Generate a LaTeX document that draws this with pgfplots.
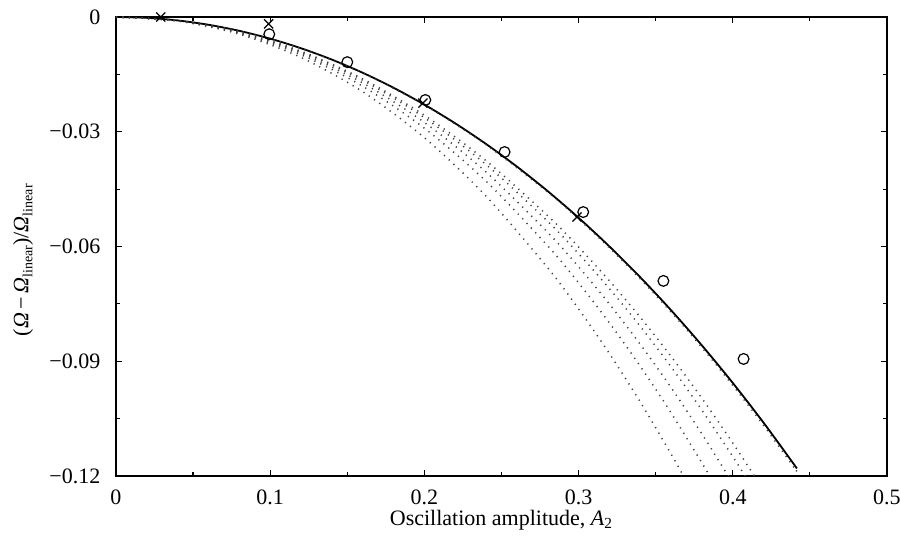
\documentclass[border=0pt]{standalone}
\usepackage{fontspec}
\setmainfont{Liberation Serif}
\usepackage{pgfplots}
\pgfplotsset{compat=1.18}
\begin{document}
\begin{tikzpicture}
\useasboundingbox (-58pt,-34pt) rectangle (392.5pt,238pt);
\begin{axis}[
  at={(0,0)}, anchor=south west,
  scale only axis, width=385.5pt, height=229.5pt,
  xmin=0, xmax=0.5, ymin=-0.12, ymax=0,
  xtick={0,0.1,0.2,0.3,0.4,0.5}, xticklabels={0,0.1,0.2,0.3,0.4,0.5},
  ytick={-0.12,-0.09,-0.06,-0.03,0}, yticklabels={−0.12,−0.09,−0.06,−0.03,0},
  minor xtick={0.05,0.15,0.25,0.35,0.45},
  minor ytick={-0.105,-0.075,-0.045,-0.015},
  tick align=inside, xtick pos=both, ytick pos=both,
  xticklabel pos=lower, yticklabel pos=left,
  major tick length=3pt, minor tick length=1.8pt,
  every tick/.style={black, line width=0.6pt},
  axis line style={line width=0.8pt},
  tick label style={font=\fontsize{11}{13}\selectfont},
  x tick label style={yshift=-3.5pt},
  y tick label style={xshift=-4.3pt},
  label style={font=\fontsize{11}{13}\selectfont},
  xlabel={Oscillation amplitude, \textit{A}\textsubscript{2}},
  ylabel={(\textit{Ω}\,−\,\textit{Ω}{\fontsize{7}{8}\selectfont\raisebox{-2pt}{linear}})/\textit{Ω}{\fontsize{7}{8}\selectfont\raisebox{-2pt}{linear}}},
  xlabel style={at={(axis description cs:0.5,-0.0959)}, anchor=center},
  ylabel style={at={(axis description cs:-0.1206,0.47)}, anchor=center},
  clip=true,
]
% solid curve
\addplot[black, line width=0.9pt, smooth] coordinates {
(0,0) (0.02,-0.000226) (0.04,-0.000904) (0.06,-0.002035) (0.08,-0.003621)
(0.10,-0.005665) (0.12,-0.008171) (0.14,-0.011143) (0.16,-0.014586)
(0.18,-0.018507) (0.20,-0.022912) (0.22,-0.027809) (0.24,-0.033206)
(0.26,-0.039113) (0.28,-0.04554) (0.30,-0.052497) (0.32,-0.059997)
(0.34,-0.068051) (0.36,-0.076673) (0.38,-0.085879) (0.40,-0.09568)
(0.42,-0.106095) (0.44,-0.117139) (0.441,-0.117708)};
% dotted curves
\pgfplotsset{dotc/.style={black!75, line width=0.75pt, smooth, dash pattern=on 0.6pt off 2.6pt}}
\addplot[dotc] coordinates {
(0,0) (0.04,-0.001059) (0.08,-0.004496) (0.12,-0.010583) (0.16,-0.019537)
(0.20,-0.031561) (0.24,-0.046849) (0.28,-0.065598) (0.30,-0.076331)
(0.32,-0.088004) (0.34,-0.100642) (0.36,-0.11427) (0.368,-0.12)};
\addplot[dotc] coordinates {
(0,0) (0.04,-0.001014) (0.08,-0.004246) (0.12,-0.009892) (0.16,-0.01812)
(0.20,-0.029085) (0.24,-0.042944) (0.28,-0.059856) (0.30,-0.069509)
(0.32,-0.079987) (0.34,-0.091313) (0.36,-0.103508) (0.38,-0.116598) (0.385,-0.12)};
\addplot[dotc] coordinates {
(0,0) (0.04,-0.000987) (0.08,-0.004092) (0.12,-0.009468) (0.16,-0.017248)
(0.20,-0.027563) (0.24,-0.040543) (0.28,-0.056326) (0.30,-0.065314)
(0.32,-0.075058) (0.34,-0.085577) (0.36,-0.096891) (0.38,-0.109023) (0.397,-0.12)};
\addplot[dotc] coordinates {
(0,0) (0.04,-0.000965) (0.08,-0.003965) (0.12,-0.00912) (0.16,-0.016535)
(0.20,-0.026316) (0.24,-0.038576) (0.28,-0.053435) (0.30,-0.061878)
(0.32,-0.07102) (0.34,-0.080878) (0.36,-0.091471) (0.38,-0.102818)
(0.40,-0.114937) (0.408,-0.12)};
\addplot[dotc] coordinates {
(0,0) (0.04,-0.000954) (0.08,-0.003902) (0.12,-0.008945) (0.16,-0.016174)
(0.20,-0.025687) (0.24,-0.037583) (0.28,-0.051974) (0.30,-0.060143)
(0.32,-0.068981) (0.34,-0.078506) (0.36,-0.088734) (0.38,-0.099685)
(0.40,-0.111375) (0.414,-0.12)};
\addplot[dotc] coordinates {
(0,0) (0.04,-0.000906) (0.08,-0.003632) (0.12,-0.008202) (0.16,-0.014649)
(0.20,-0.023023) (0.24,-0.033381) (0.28,-0.045797) (0.30,-0.052803)
(0.32,-0.060356) (0.34,-0.068469) (0.36,-0.077155) (0.38,-0.086431)
(0.40,-0.096307) (0.42,-0.106804) (0.44,-0.117935) (0.441,-0.1185)};
% circles
\addplot[only marks, mark=o, mark size=2.7pt, mark options={line width=0.6pt, black}] coordinates {
(0.0994,-0.0045) (0.150,-0.0118) (0.2006,-0.0217) (0.252,-0.0353)
(0.303,-0.051) (0.355,-0.069) (0.407,-0.0894)};
% crosses
\addplot[only marks, mark=x, mark size=3.2pt, mark options={line width=0.6pt, black}] coordinates {
(0.029,0) (0.099,-0.0018) (0.199,-0.0225) (0.299,-0.0523)};
\end{axis}
\end{tikzpicture}
\end{document}
